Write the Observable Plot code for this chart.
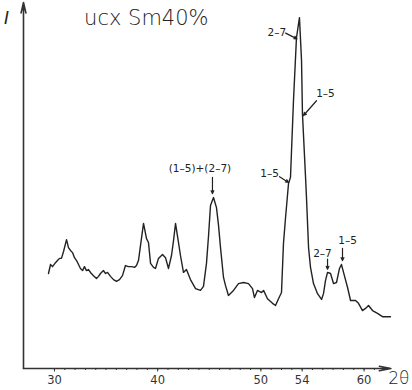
<!DOCTYPE html>
<html><head><meta charset="utf-8">
<script src="https://cdn.jsdelivr.net/npm/d3@7"></script>
<script src="https://cdn.jsdelivr.net/npm/@observablehq/plot@0.6"></script>
<style>body{margin:0;background:#fff} svg{display:block}</style>
</head><body><div id="chart"></div>
<script>
// XRD pattern: 2θ (deg) and intensity (arbitrary units, 0–100)
const twoTheta = [29.42,29.62,29.81,30.10,30.29,30.49,30.68,30.88,31.17,31.36,31.55,31.75,31.94,32.14,32.33,32.52,32.72,32.91,33.10,33.30,33.49,33.78,34.07,34.27,34.46,34.75,34.95,35.14,35.43,35.72,36.01,36.30,36.59,36.88,37.17,37.47,37.76,37.95,38.14,38.34,38.63,38.92,39.11,39.31,39.60,39.79,40.08,40.47,40.76,41.05,41.34,41.54,41.73,42.02,42.21,42.50,42.79,43.18,43.67,44.15,44.44,44.73,44.93,45.12,45.41,45.70,45.90,46.09,46.38,46.57,46.86,47.35,47.83,48.32,48.80,49.19,49.38,49.67,50.06,50.26,50.64,51.13,51.42,51.71,52.00,52.19,52.39,52.68,52.87,53.16,53.45,53.74,53.94,54.03,54.33,54.42,54.62,54.81,55.10,55.49,55.88,56.07,56.26,56.46,56.75,57.04,57.33,57.62,57.81,58.01,58.40,58.69,59.17,59.46,59.85,60.14,60.43,60.82,61.30,61.78,62.56];
const intensity = [26.4,28.9,28.3,29.4,30.0,30.6,30.6,32.5,35.8,33.6,32.8,32.2,30.8,30.0,28.9,27.8,27.2,28.3,27.2,27.5,26.7,25.8,25.0,25.6,26.4,27.2,26.4,26.7,25.6,24.7,24.2,24.7,25.8,28.6,28.3,28.3,28.1,28.6,30.0,34.2,40.3,36.1,35.0,29.2,28.1,27.8,30.6,31.7,30.8,27.8,31.4,35.6,40.3,35.0,31.4,26.7,27.5,24.7,22.2,21.7,22.8,29.2,36.9,45.3,47.5,44.7,39.7,33.6,25.3,23.1,20.3,21.7,23.6,23.9,23.6,22.2,19.7,21.7,21.1,21.7,19.4,18.1,17.5,19.4,21.1,34.7,41.9,51.4,53.1,74.4,91.9,97.5,85.6,70.8,53.1,47.5,33.6,28.1,23.6,20.8,19.2,20.8,24.4,26.7,26.4,23.6,23.9,27.8,28.9,26.7,22.5,18.9,18.9,18.1,16.1,16.7,17.5,16.1,15.3,14.4,14.4];

// Peak annotations
const annLabels = ["2–7", "1–5", "1–5", "(1–5)+(2–7)", "2–7", "1–5"];
const annTextX  = [51.55, 56.26, 50.84, 44.10, 55.97, 58.40];
const annTextY  = [93.3, 76.4, 54.2, 55.6, 31.9, 35.6];
const annFromX  = [52.40, 55.39, 51.81, 45.31, 56.46, 57.91];
const annFromY  = [93.2, 74.4, 53.3, 53.1, 30.4, 33.4];
const annToX    = [53.50, 54.13, 52.68, 45.31, 56.46, 57.91];
const annToY    = [91.6, 70.3, 51.7, 48.6, 27.6, 30.0];

const majorTicks = [30, 40, 50, 54, 60];
const minorTicks = d3.range(30, 62);
const titleText = "ucx Sm40%";
const yLabel = "I";
const xLabel = "2θ";

const curve = twoTheta.map((x, i) => ({x, y: intensity[i]}));
const ann = annLabels.map((label, i) => ({
  label, tx: annTextX[i], ty: annTextY[i],
  x1: annFromX[i], y1: annFromY[i], x2: annToX[i], y2: annToY[i]
}));
const ink = "#222";

const chart = Plot.plot({
  width: 412, height: 390,
  marginLeft: 23, marginRight: 21.6, marginTop: 2, marginBottom: 22,
  x: {domain: [27, 62.6]},
  y: {domain: [0, 101.7], axis: null},
  style: {fontFamily: "DejaVu Sans", background: "white", overflow: "visible", color: ink},
  marks: [
    Plot.axisX({ticks: minorTicks, tickSize: 2, tickFormat: () => "", label: null, stroke: "#333"}),
    Plot.axisX({ticks: majorTicks, tickSize: 3.5, tickPadding: 3.5, fontSize: 11.5, label: null, fill: "#333", stroke: "#333"}),
    Plot.arrow([{x1: 27, y1: 0, x2: 62.6, y2: 0}], {x1: "x1", y1: "y1", x2: "x2", y2: "y2", stroke: "#333", strokeWidth: 1.6, headLength: 11, headAngle: 22}),
    Plot.arrow([{x1: 27, y1: 0, x2: 27, y2: 101.7}], {x1: "x1", y1: "y1", x2: "x2", y2: "y2", stroke: "#333", strokeWidth: 1.6, headLength: 10, headAngle: 26}),
    Plot.line(curve, {x: "x", y: "y", stroke: ink, strokeWidth: 1.4, strokeLinejoin: "round"}),
    Plot.arrow(ann, {x1: "x1", y1: "y1", x2: "x2", y2: "y2", stroke: ink, strokeWidth: 1.2, headLength: 4, headAngle: 50}),
    Plot.text(ann, {x: "tx", y: "ty", text: "label", fontSize: 10.5, fill: ink}),
    Plot.text([titleText], {x: 38.9, y: 97.2, text: d => d, fontSize: 21, fontWeight: 200, fill: "#222"}),
    Plot.text([yLabel], {x: 25.35, y: 97.2, text: d => d, fontSize: 17, fontStyle: "italic", fontWeight: 200, fill: "#222"}),
    Plot.text([xLabel], {x: 64.4, y: -2.8, text: d => d, textAnchor: "end", fontSize: 17, fontWeight: 200, fill: "#222"})
  ]
});
document.getElementById("chart").append(chart);
</script>
</body></html>
